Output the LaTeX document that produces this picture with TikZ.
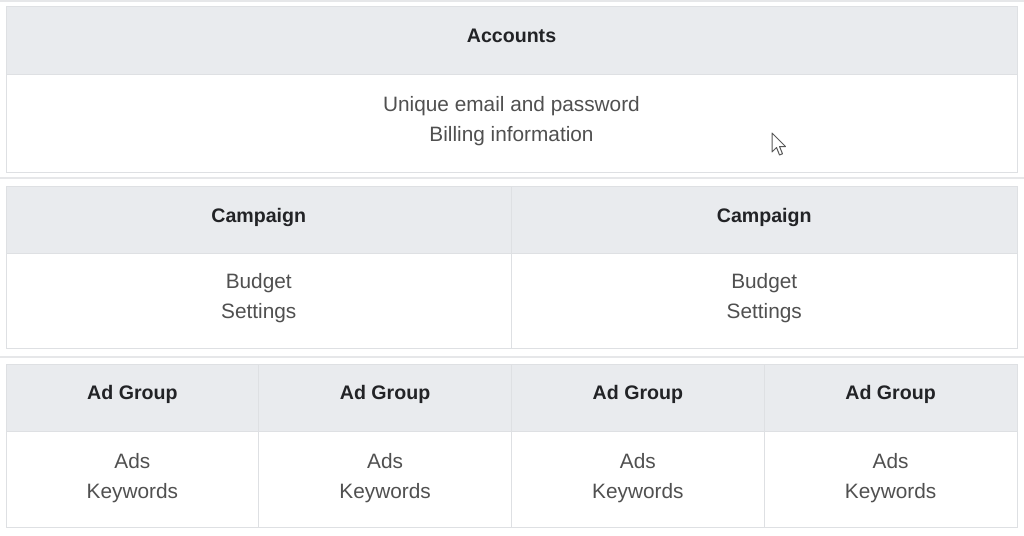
\documentclass[tikz,border=0pt]{standalone}
\usepackage{fontspec}
\setmainfont{Liberation Sans}
\usetikzlibrary{positioning}
\definecolor{tb_head}{RGB}{233, 235, 238}
\definecolor{tb_line}{RGB}{222, 224, 227}
\definecolor{tb_sep}{RGB}{230, 231, 233}
\definecolor{tb_htext}{RGB}{34, 35, 38}
\definecolor{tb_btext}{RGB}{80, 80, 80}
\tikzstyle{hc}=[rectangle,fill=tb_head,draw=tb_line,line width=1pt,
  anchor=north west,inner sep=0pt,outer sep=0pt,minimum height=67pt]
\tikzstyle{bc}=[rectangle,fill=white,draw=tb_line,line width=1pt,
  anchor=north west,inner sep=0pt,outer sep=0pt]
\tikzstyle{ht}=[anchor=base,text=tb_htext,inner sep=0pt,
  font=\fontsize{19.6}{30}\selectfont\bfseries]
\tikzstyle{bt}=[anchor=base,text=tb_btext,inner sep=0pt,align=center,
  font=\fontsize{20.8}{30}\selectfont]

\begin{document}
\begin{tikzpicture}[x=1pt, y=-1pt]
    \fill[white] (0,0) rectangle (1024,535);
    \useasboundingbox (0,0) rectangle (1024,535);
    % separators
    \coordinate (s0l) at (0,1);
    \coordinate (s0r) at (1024,1);
    \coordinate (s1l) at (0,178);
    \coordinate (s1r) at (1024,178);
    \coordinate (s2l) at (0,357);
    \coordinate (s2r) at (1024,357);
    \draw[tb_sep, line width=1.5pt] (s0l) to (s0r);
    \draw[tb_sep, line width=1.5pt] (s1l) to (s1r);
    \draw[tb_sep, line width=1.5pt] (s2l) to (s2r);
    % accounts
    \node [style=hc, minimum width=1011pt] (acc) at (6, 7) {};
    \node [style=bc, minimum width=1011pt, minimum height=98pt] (accb) at (acc.south west) {};
    \node [style=ht] (acct) at (511.5, 42) {Accounts};
    \node [style=bt] (accl) at (511.5, 141) {Unique email and password\\Billing information};
    % campaigns
    \node [style=hc, minimum width=505.5pt] (c1) at (6, 186) {};
    \node [style=hc, minimum width=505.5pt] (c2) at (c1.north east) {};
    \node [style=bc, minimum width=505.5pt, minimum height=95pt] (c1b) at (c1.south west) {};
    \node [style=bc, minimum width=505.5pt, minimum height=95pt] (c2b) at (c2.south west) {};
    \node [style=ht] (c1t) at (258.75, 222) {Campaign};
    \node [style=ht] (c2t) at (764.25, 222) {Campaign};
    \node [style=bt] (c1l) at (258.75, 318) {Budget\\Settings};
    \node [style=bt] (c2l) at (764.25, 318) {Budget\\Settings};
    % ad groups
    \node [style=hc, minimum width=252.75pt] (a1) at (6, 364) {};
    \node [style=hc, minimum width=252.75pt] (a2) at (a1.north east) {};
    \node [style=hc, minimum width=252.75pt] (a3) at (a2.north east) {};
    \node [style=hc, minimum width=252.75pt] (a4) at (a3.north east) {};
    \node [style=bc, minimum width=252.75pt, minimum height=96pt] (a1b) at (a1.south west) {};
    \node [style=bc, minimum width=252.75pt, minimum height=96pt] (a2b) at (a2.south west) {};
    \node [style=bc, minimum width=252.75pt, minimum height=96pt] (a3b) at (a3.south west) {};
    \node [style=bc, minimum width=252.75pt, minimum height=96pt] (a4b) at (a4.south west) {};
    \node [style=ht] (a1t) at (132.4, 399) {Ad Group};
    \node [style=ht] (a2t) at (385.1, 399) {Ad Group};
    \node [style=ht] (a3t) at (637.9, 399) {Ad Group};
    \node [style=ht] (a4t) at (890.6, 399) {Ad Group};
    \node [style=bt] (a1l) at (132.4, 498) {Ads\\Keywords};
    \node [style=bt] (a2l) at (385.1, 498) {Ads\\Keywords};
    \node [style=bt] (a3l) at (637.9, 498) {Ads\\Keywords};
    \node [style=bt] (a4l) at (890.6, 498) {Ads\\Keywords};
    % pointer
    \filldraw[fill=white, draw=black!65, line width=1pt, line join=round]
      (772,133) -- (772,152) -- (776.5,147.5) -- (779.5,155) -- (782.5,153.8)
      -- (779.5,146.5) -- (785.5,146.5) -- cycle;
\end{tikzpicture}
\end{document}
